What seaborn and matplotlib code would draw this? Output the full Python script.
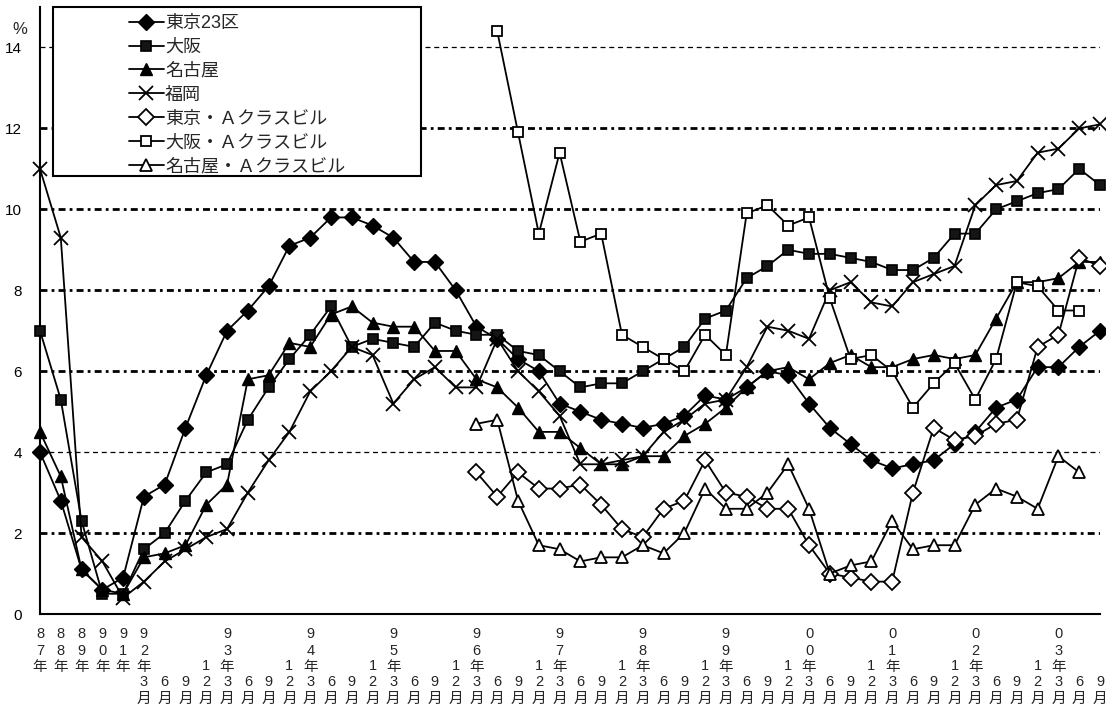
import matplotlib
matplotlib.use('Agg')
import matplotlib.pyplot as plt
import numpy as np
import pandas as pd
import seaborn as sns
from matplotlib.patches import Rectangle

# x-axis categories (annual until 91, quarterly afterwards)
periods = ['87年', '88年', '89年', '90年', '91年',
           '92年3月', '6月', '9月', '12月',
           '93年3月', '6月', '9月', '12月',
           '94年3月', '6月', '9月', '12月',
           '95年3月', '6月', '9月', '12月',
           '96年3月', '6月', '9月', '12月',
           '97年3月', '6月', '9月', '12月',
           '98年3月', '6月', '9月', '12月',
           '99年3月', '6月', '9月', '12月',
           '00年3月', '6月', '9月', '12月',
           '01年3月', '6月', '9月', '12月',
           '02年3月', '6月', '9月', '12月',
           '03年3月', '6月', '9月']

tokyo = [4.0, 2.8, 1.1, 0.6, 0.9, 2.9, 3.2, 4.6, 5.9, 7.0,
         7.5, 8.1, 9.1, 9.3, 9.8, 9.8, 9.6, 9.3, 8.7, 8.7,
         8.0, 7.1, 6.8, 6.3, 6.0, 5.2, 5.0, 4.8, 4.7, 4.6,
         4.7, 4.9, 5.4, 5.3, 5.6, 6.0, 5.9, 5.2, 4.6, 4.2,
         3.8, 3.6, 3.7, 3.8, 4.2, 4.5, 5.1, 5.3, 6.1, 6.1,
         6.6, 7.0]
osaka = [7.0, 5.3, 2.3, 0.5, 0.5, 1.6, 2.0, 2.8, 3.5, 3.7,
         4.8, 5.6, 6.3, 6.9, 7.6, 6.6, 6.8, 6.7, 6.6, 7.2,
         7.0, 6.9, 6.9, 6.5, 6.4, 6.0, 5.6, 5.7, 5.7, 6.0,
         6.3, 6.6, 7.3, 7.5, 8.3, 8.6, 9.0, 8.9, 8.9, 8.8,
         8.7, 8.5, 8.5, 8.8, 9.4, 9.4, 10.0, 10.2, 10.4, 10.5,
         11.0, 10.6]
nagoya = [4.5, 3.4, 1.1, 0.6, 0.5, 1.4, 1.5, 1.7, 2.7, 3.2,
          5.8, 5.9, 6.7, 6.6, 7.4, 7.6, 7.2, 7.1, 7.1, 6.5,
          6.5, 5.8, 5.6, 5.1, 4.5, 4.5, 4.1, 3.7, 3.7, 3.9,
          3.9, 4.4, 4.7, 5.1, 5.6, 6.0, 6.1, 5.8, 6.2, 6.4,
          6.1, 6.1, 6.3, 6.4, 6.3, 6.4, 7.3, 8.2, 8.2, 8.3,
          8.7, 8.7]
fukuoka = [11.0, 9.3, 1.9, 1.3, 0.4, 0.8, 1.3, 1.6, 1.9, 2.1,
           3.0, 3.8, 4.5, 5.5, 6.0, 6.6, 6.4, 5.2, 5.8, 6.1,
           5.6, 5.6, 6.8, 6.0, 5.5, 4.9, 3.7, 3.7, 3.8, 3.9,
           4.5, 4.8, 5.2, 5.3, 6.1, 7.1, 7.0, 6.8, 8.0, 8.2,
           7.7, 7.6, 8.2, 8.4, 8.6, 10.1, 10.6, 10.7, 11.4, 11.5,
           12.0, 12.1]
tokyo_a = [None] * 21 + [3.5, 2.9, 3.5, 3.1, 3.1, 3.2, 2.7, 2.1, 1.9,
                         2.6, 2.8, 3.8, 3.0, 2.9, 2.6, 2.6, 1.7, 1.0, 0.9,
                         0.8, 0.8, 3.0, 4.6, 4.3, 4.4, 4.7, 4.8, 6.6, 6.9,
                         8.8, 8.6]
osaka_a = [None] * 22 + [14.4, 11.9, 9.4, 11.4, 9.2, 9.4, 6.9, 6.6,
                         6.3, 6.0, 6.9, 6.4, 9.9, 10.1, 9.6, 9.8, 7.8, 6.3,
                         6.4, 6.0, 5.1, 5.7, 6.2, 5.3, 6.3, 8.2, 8.1, 7.5,
                         7.5, None]
nagoya_a = [None] * 21 + [4.7, 4.8, 2.8, 1.7, 1.6, 1.3, 1.4, 1.4, 1.7,
                          1.5, 2.0, 3.1, 2.6, 2.6, 3.0, 3.7, 2.6, 1.0, 1.2,
                          1.3, 2.3, 1.6, 1.7, 1.7, 2.7, 3.1, 2.9, 2.6, 3.9,
                          3.5, None]

series_names = ['東京23区', '大阪', '名古屋', '福岡',
                '東京・Ａクラスビル', '大阪・Ａクラスビル', '名古屋・Ａクラスビル']
series_values = [tokyo, osaka, nagoya, fukuoka, tokyo_a, osaka_a, nagoya_a]
series_styles = [
    dict(marker='D', markersize=8, markerfacecolor='black', markeredgewidth=1.0),
    dict(marker='s', markersize=7, markerfacecolor='#151515', markeredgewidth=1.2),
    dict(marker='^', markersize=8.5, markerfacecolor='black', markeredgewidth=1.0),
    dict(marker='x', markersize=10, markerfacecolor='black', markeredgewidth=1.3),
    dict(marker='D', markersize=8, markerfacecolor='white', markeredgewidth=1.3),
    dict(marker='s', markersize=7.5, markerfacecolor='white', markeredgewidth=1.3),
    dict(marker='^', markersize=9, markerfacecolor='white', markeredgewidth=1.3),
]


def stack_rows(label):
    """Five rows of characters: year part at the top, month part at the bottom."""
    chars = list(label)
    pad = [''] * (5 - len(chars))
    return chars + pad if label.endswith('年') else pad + chars


sns.set_theme(style='white')
plt.rcParams['font.family'] = ['Liberation Sans', 'Noto Sans CJK JP']

fig = plt.figure(figsize=(11.06, 7.08), dpi=100)
ax = fig.add_axes([40 / 1106, 1 - 614 / 708, 1060 / 1106, 607 / 708])

x = np.arange(len(periods))
for name, vals, style in zip(series_names, series_values, series_styles):
    df = pd.DataFrame({'period': x, 'rate': np.array(vals, dtype=float)}).dropna()
    sns.lineplot(data=df, x='period', y='rate', ax=ax, color='black', linewidth=1.3,
                 label=name, markeredgecolor='black', clip_on=False, zorder=3, **style)

ax.set_xlim(0, len(periods) - 1)
ax.set_ylim(0, 15)
ax.set_xlabel('')
ax.set_ylabel('')

ax.set_xticks(x)
ax.set_xticklabels([])
ax.set_yticks(np.arange(0, 15, 2))
ax.set_yticklabels([str(v) for v in range(0, 15, 2)], fontsize=11)
ax.tick_params(axis='x', direction='in', length=5, width=1.2, color='black')
ax.tick_params(axis='y', direction='in', length=4, width=1.2, color='black', pad=13)
ax.tick_params(colors='black')

# category labels written vertically, one character per row
row_offsets_px = [-20.5, -37, -52.5, -68.5, -84.5]
for i, p in enumerate(periods):
    for r, ch in enumerate(stack_rows(p)):
        if ch:
            ax.annotate(ch, xy=(i, 0), xycoords=ax.get_xaxis_transform(),
                        xytext=(0, row_offsets_px[r] * 0.72), textcoords='offset points',
                        ha='center', va='center', fontsize=10.5, annotation_clip=False)

# horizontal grid: mostly heavy dash-dot, a few thin dashed
ax.set_axisbelow(True)
ax.yaxis.grid(True)
for val, gl in zip(ax.get_yticks(), ax.get_ygridlines()):
    if val == 0:
        gl.set_visible(False)
    elif val in (4, 14):
        gl.set_color('black')
        gl.set_linewidth(0.9)
        gl.set_dashes((4, 3))
    else:
        gl.set_color('black')
        gl.set_linewidth(2.0)
        gl.set_dashes((2.5, 1.5, 1, 1.5))

for side in ['top', 'right']:
    ax.spines[side].set_visible(False)
for side in ['left', 'bottom']:
    ax.spines[side].set_color('black')
    ax.spines[side].set_linewidth(1.5)

# legend box
box_x0, box_w = 13 / 1060, 368 / 1060
box_y0, box_h = 438 / 607, 169 / 607
ax.add_patch(Rectangle((box_x0, box_y0), box_w, box_h, transform=ax.transAxes,
                       facecolor='white', edgecolor='black', linewidth=1.5,
                       zorder=10, clip_on=False))
handles, labels = ax.get_legend_handles_labels()
leg = ax.legend(handles, labels, loc='center',
                bbox_to_anchor=(box_x0 + box_w / 2, box_y0 + box_h / 2 - 0.006),
                bbox_transform=ax.transAxes, frameon=False, fontsize=13,
                handlelength=1.95, handletextpad=0.05, labelspacing=0.38,
                borderpad=0, borderaxespad=0)
leg.set_zorder(11)

fig.text(20 / 1106, 1 - 29 / 708, '%', fontsize=12, ha='center', va='center')

fig.savefig('out.png', dpi=100)
